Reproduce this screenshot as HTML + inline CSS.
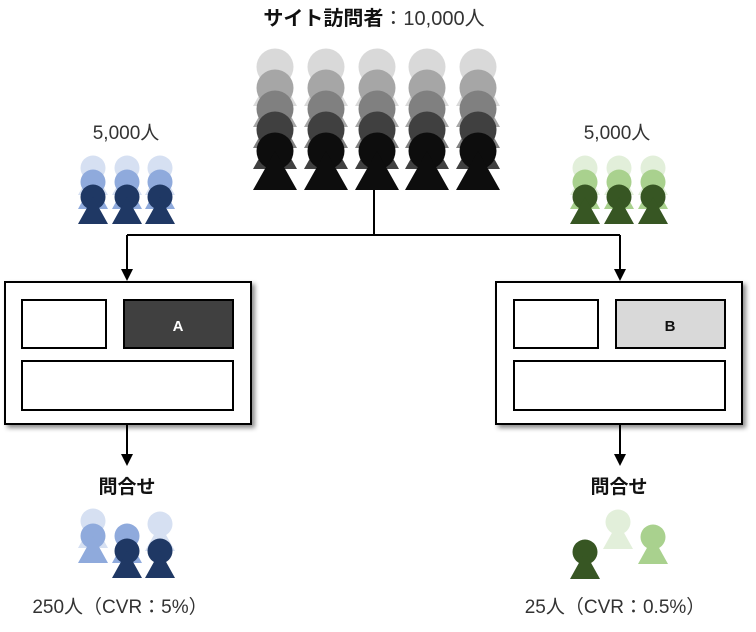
<!DOCTYPE html>
<html><head><meta charset="utf-8"><style>
body{margin:0;background:#fff;}
svg{display:block;}
text{font-family:"Liberation Sans","Noto Sans CJK JP",sans-serif;fill:#333;}
</style></head><body>
<svg width="756" height="632" viewBox="0 0 756 632" xmlns="http://www.w3.org/2000/svg">
<defs>
<filter id="sh" x="-10%" y="-10%" width="130%" height="130%"><feDropShadow dx="3" dy="3" stdDeviation="2.5" flood-color="#000" flood-opacity="0.45"/></filter>
</defs>
<text x="374" y="25" text-anchor="middle" font-size="20"><tspan font-weight="bold" style="fill:#111">サイト訪問者</tspan>：10,000人</text>
<text x="126" y="139" text-anchor="middle" font-size="19">5,000人</text>
<text x="617" y="139" text-anchor="middle" font-size="19">5,000人</text>
<path d="M374,190 V235 M127,235 H620 M127,235 V270 M620,235 V270 M127,424 V455 M620,424 V455" stroke="#000" stroke-width="2" fill="none"/>
<path d="M121,269 h12 l-6,12z M614,269 h12 l-6,12z M121,454 h12 l-6,12z M614,454 h12 l-6,12z" fill="#000"/>
<rect x="5" y="282" width="246" height="142" fill="#fff" stroke="#000" stroke-width="2" filter="url(#sh)"/>
<rect x="22" y="300" width="84" height="48" fill="#fff" stroke="#000" stroke-width="2"/>
<rect x="124" y="300" width="109" height="48" fill="#404040" stroke="#000" stroke-width="2"/>
<text x="178" y="331" text-anchor="middle" font-size="15" font-weight="bold" style="fill:#fff">A</text>
<rect x="22" y="361" width="211" height="49" fill="#fff" stroke="#000" stroke-width="2"/>
<rect x="496" y="282" width="246" height="142" fill="#fff" stroke="#000" stroke-width="2" filter="url(#sh)"/>
<rect x="514" y="300" width="84" height="48" fill="#fff" stroke="#000" stroke-width="2"/>
<rect x="616" y="300" width="109" height="48" fill="#d9d9d9" stroke="#000" stroke-width="2"/>
<text x="670" y="331" text-anchor="middle" font-size="15" font-weight="bold" style="fill:#111">B</text>
<rect x="514" y="361" width="211" height="49" fill="#fff" stroke="#000" stroke-width="2"/>
<text x="127" y="493" text-anchor="middle" font-size="19" font-weight="bold" style="fill:#111">問合せ</text>
<text x="619" y="493" text-anchor="middle" font-size="19" font-weight="bold" style="fill:#111">問合せ</text>
<text x="120" y="613" text-anchor="middle" font-size="19">250人（CVR：5%）</text>
<text x="615" y="613" text-anchor="middle" font-size="19">25人（CVR：0.5%）</text>
<g>
<g fill="#d9d9d9"><circle cx="275" cy="67" r="18.5"/><circle cx="326" cy="67" r="18.5"/><circle cx="377" cy="67" r="18.5"/><circle cx="427" cy="67" r="18.5"/><circle cx="478" cy="67" r="18.5"/>
<path d="M275,67 l-22,39 h44z M326,67 l-22,39 h44z M377,67 l-22,39 h44z M427,67 l-22,39 h44z M478,67 l-22,39 h44z"/></g>
<g fill="#a6a6a6"><circle cx="275" cy="88" r="18.5"/><circle cx="326" cy="88" r="18.5"/><circle cx="377" cy="88" r="18.5"/><circle cx="427" cy="88" r="18.5"/><circle cx="478" cy="88" r="18.5"/>
<path d="M275,88 l-22,39 h44z M326,88 l-22,39 h44z M377,88 l-22,39 h44z M427,88 l-22,39 h44z M478,88 l-22,39 h44z"/></g>
<g fill="#808080"><circle cx="275" cy="109" r="18.5"/><circle cx="326" cy="109" r="18.5"/><circle cx="377" cy="109" r="18.5"/><circle cx="427" cy="109" r="18.5"/><circle cx="478" cy="109" r="18.5"/>
<path d="M275,109 l-22,39 h44z M326,109 l-22,39 h44z M377,109 l-22,39 h44z M427,109 l-22,39 h44z M478,109 l-22,39 h44z"/></g>
<g fill="#404040"><circle cx="275" cy="130" r="18.5"/><circle cx="326" cy="130" r="18.5"/><circle cx="377" cy="130" r="18.5"/><circle cx="427" cy="130" r="18.5"/><circle cx="478" cy="130" r="18.5"/>
<path d="M275,130 l-22,39 h44z M326,130 l-22,39 h44z M377,130 l-22,39 h44z M427,130 l-22,39 h44z M478,130 l-22,39 h44z"/></g>
<g fill="#0d0d0d"><circle cx="275" cy="151" r="18.5"/><circle cx="326" cy="151" r="18.5"/><circle cx="377" cy="151" r="18.5"/><circle cx="427" cy="151" r="18.5"/><circle cx="478" cy="151" r="18.5"/>
<path d="M275,151 l-22,39 h44z M326,151 l-22,39 h44z M377,151 l-22,39 h44z M427,151 l-22,39 h44z M478,151 l-22,39 h44z"/></g>
</g>
<g fill="#d6e0f2"><circle cx="93" cy="168" r="12.5"/><circle cx="127" cy="168" r="12.5"/><circle cx="160" cy="168" r="12.5"/>
<path d="M93,168 l-15,27 h30z M127,168 l-15,27 h30z M160,168 l-15,27 h30z"/></g>
<g fill="#8faadc"><circle cx="93" cy="182" r="12.5"/><circle cx="127" cy="182" r="12.5"/><circle cx="160" cy="182" r="12.5"/>
<path d="M93,182 l-15,27 h30z M127,182 l-15,27 h30z M160,182 l-15,27 h30z"/></g>
<g fill="#1f3864"><circle cx="93" cy="197" r="12.5"/><circle cx="127" cy="197" r="12.5"/><circle cx="160" cy="197" r="12.5"/>
<path d="M93,197 l-15,27 h30z M127,197 l-15,27 h30z M160,197 l-15,27 h30z"/></g>
<g fill="#e2efda"><circle cx="585" cy="168" r="12.5"/><circle cx="619" cy="168" r="12.5"/><circle cx="653" cy="168" r="12.5"/>
<path d="M585,168 l-15,27 h30z M619,168 l-15,27 h30z M653,168 l-15,27 h30z"/></g>
<g fill="#a9d18e"><circle cx="585" cy="182" r="12.5"/><circle cx="619" cy="182" r="12.5"/><circle cx="653" cy="182" r="12.5"/>
<path d="M585,182 l-15,27 h30z M619,182 l-15,27 h30z M653,182 l-15,27 h30z"/></g>
<g fill="#375623"><circle cx="585" cy="197" r="12.5"/><circle cx="619" cy="197" r="12.5"/><circle cx="653" cy="197" r="12.5"/>
<path d="M585,197 l-15,27 h30z M619,197 l-15,27 h30z M653,197 l-15,27 h30z"/></g>
<g fill="#d6e0f2"><circle cx="93" cy="521" r="12.5"/><circle cx="160" cy="524" r="12.5"/>
<path d="M93,521 l-15,27 h30z M160,524 l-15,27 h30z"/></g>
<g fill="#8faadc"><circle cx="93" cy="536" r="12.5"/><circle cx="127" cy="536" r="12.5"/>
<path d="M93,536 l-15,27 h30z M127,536 l-15,27 h30z"/></g>
<g fill="#1f3864"><circle cx="127" cy="551" r="12.5"/><circle cx="160" cy="551" r="12.5"/>
<path d="M127,551 l-15,27 h30z M160,551 l-15,27 h30z"/></g>
<g fill="#e2efda"><circle cx="618" cy="522" r="12.5"/><path d="M618,522 l-15,27 h30z"/></g>
<g fill="#a9d18e"><circle cx="653" cy="537" r="12.5"/><path d="M653,537 l-15,27 h30z"/></g>
<g fill="#375623"><circle cx="585" cy="552" r="12.5"/><path d="M585,552 l-15,27 h30z"/></g>
</svg>
</body></html>
